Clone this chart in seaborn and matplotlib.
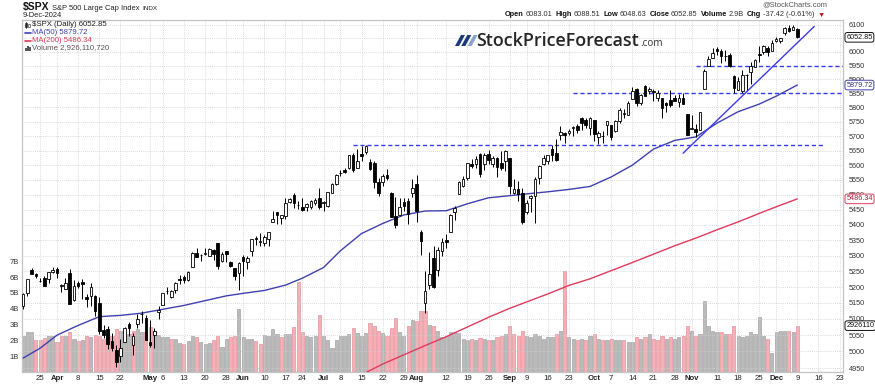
import numpy as np
import pandas as pd
import seaborn as sns
import matplotlib.pyplot as plt
from matplotlib.patches import Polygon, Rectangle
from matplotlib.ticker import FixedLocator, NullLocator, FixedFormatter

W, H = 875, 385

holidays = ["2024-03-29", "2024-05-27", "2024-06-19", "2024-07-04",
            "2024-09-02", "2024-11-28", "2024-12-25"]

opens = [
    5139.09, 5181.69, 5253.43, 5242.48, 5219.52, 5228.85, 5226.31, 5248.03,
    5257.97, 5204.29, 5194.37, 5244.05, 5158.95, 5211.37, 5217.03, 5167.88, 5172.95, 5171.51, 5149.67,
    5064.59, 5068.97, 5031.52, 5005.44, 4987.33, 5028.85, 5084.65, 5019.88, 5084.65, 5114.13, 5103.78,
    5029.03, 5049.32, 5122.78, 5142.42, 5187.20, 5168.98, 5189.03, 5225.49, 5233.08, 5221.10, 5263.26,
    5310.07, 5303.10, 5305.35, 5298.69, 5319.28, 5340.26, 5281.45, 5315.91, 5278.73, 5259.77, 5243.21,
    5297.15, 5278.24, 5314.48, 5357.80, 5343.81, 5341.22, 5353.00, 5409.13, 5441.93, 5424.08, 5431.11,
    5476.15, 5499.99, 5466.77, 5459.58, 5460.73, 5460.71, 5473.59, 5488.48,
    5471.08, 5461.84, 5507.44, 5537.91, 5572.75, 5584.24, 5591.26, 5635.21, 5590.76, 5638.16, 5644.09,
    5610.07, 5608.56, 5543.37, 5544.54, 5565.30, 5505.84, 5428.70, 5433.67, 5476.55, 5478.73, 5505.59,
    5537.84, 5376.63, 5151.14, 5206.42, 5293.13, 5252.57, 5314.75, 5351.89, 5376.98, 5442.65, 5501.13,
    5530.50, 5557.23, 5602.88, 5603.09, 5637.77, 5602.51, 5639.66, 5602.89, 5624.51, 5607.30, 5612.74,
    5623.89, 5506.68, 5520.08, 5507.33, 5442.07, 5490.51, 5496.42, 5557.48, 5603.34, 5615.21, 5655.51,
    5641.68, 5702.63, 5709.38, 5711.90, 5727.82, 5733.65, 5762.22, 5755.36, 5726.52,
    5757.73, 5698.19, 5698.93, 5737.54, 5737.80, 5719.14, 5751.80, 5778.36, 5775.09, 5829.81, 5866.74,
    5816.58, 5875.62, 5859.43, 5857.82, 5832.70, 5834.50, 5816.80, 5826.75, 5833.93, 5819.68, 5832.65, 5775.34,
    5723.22, 5725.15, 5722.43, 5864.89, 5947.21, 5976.76, 6008.86, 6003.60, 5985.75, 5989.68, 5912.79,
    5863.35, 5857.08, 5914.64, 5926.76, 5944.36, 5992.28, 6000.03, 6014.11, 6003.98,
    6040.11, 6041.04, 6069.39, 6089.03, 6081.38, 6083.01,
]
highs = [
    5180.31, 5226.19, 5261.10, 5246.09, 5229.09, 5235.16, 5249.26, 5264.85,
    5263.95, 5208.34, 5228.75, 5256.59, 5222.18, 5219.57, 5224.81, 5178.43, 5211.78, 5175.03, 5168.43,
    5079.84, 5077.96, 5056.66, 5019.02, 5038.84, 5076.12, 5089.48, 5057.75, 5114.62, 5123.49, 5110.83,
    5096.12, 5073.21, 5139.12, 5181.00, 5200.23, 5191.95, 5215.30, 5239.66, 5237.26, 5250.37, 5311.76,
    5325.49, 5305.45, 5325.32, 5324.32, 5323.18, 5341.88, 5311.65, 5315.91, 5282.27, 5260.21, 5280.33,
    5302.11, 5298.80, 5354.16, 5362.35, 5375.08, 5365.79, 5375.95, 5447.25, 5441.93, 5432.39, 5488.50,
    5490.38, 5505.53, 5478.31, 5490.66, 5472.88, 5483.14, 5490.81, 5523.64,
    5479.55, 5509.69, 5539.27, 5570.33, 5583.11, 5590.75, 5635.39, 5642.45, 5655.56, 5666.94, 5669.67,
    5622.49, 5614.05, 5557.50, 5570.36, 5585.34, 5508.04, 5491.59, 5488.32, 5487.74, 5489.46, 5551.51,
    5566.16, 5383.89, 5250.89, 5312.34, 5330.64, 5328.03, 5358.25, 5371.20, 5436.50, 5463.22, 5546.23,
    5561.98, 5608.30, 5620.51, 5632.68, 5643.22, 5641.82, 5651.62, 5631.18, 5627.03, 5646.95, 5651.37,
    5623.89, 5552.99, 5546.30, 5522.47, 5484.20, 5497.91, 5560.41, 5600.71, 5636.27, 5636.05, 5670.81,
    5689.75, 5733.57, 5715.14, 5725.36, 5735.32, 5741.03, 5767.37, 5764.76, 5765.14,
    5757.73, 5719.14, 5718.78, 5753.43, 5739.34, 5757.60, 5796.80, 5795.03, 5822.13, 5871.41, 5870.36,
    5846.52, 5878.46, 5872.17, 5866.92, 5863.04, 5834.85, 5817.80, 5862.82, 5842.92, 5847.19, 5850.94, 5775.34,
    5772.52, 5741.43, 5783.44, 5936.14, 5983.84, 6012.45, 6017.31, 6009.92, 6008.19, 5993.88, 5915.24,
    5909.04, 5932.62, 5920.67, 5963.21, 5972.90, 6020.75, 6025.42, 6020.16, 6044.17,
    6053.58, 6052.22, 6089.84, 6099.97, 6099.97, 6088.51,
]
lows = [
    5131.59, 5171.55, 5240.66, 5229.87, 5216.09, 5203.42, 5213.92, 5245.82,
    5229.20, 5184.05, 5194.37, 5146.06, 5157.21, 5197.35, 5160.78, 5138.70, 5138.77, 5107.94, 5052.47,
    5039.83, 5007.25, 5001.89, 4953.56, 4969.40, 5027.96, 5047.02, 4990.58, 5073.14, 5088.65, 5035.31,
    5013.45, 5011.05, 5101.22, 5142.42, 5178.96, 5165.86, 5180.41, 5209.68, 5211.16, 5217.98, 5263.26,
    5296.19, 5283.59, 5302.40, 5297.87, 5286.01, 5256.93, 5278.39, 5280.89, 5262.70, 5222.10, 5191.68,
    5234.32, 5257.63, 5297.64, 5335.36, 5331.33, 5331.52, 5331.33, 5409.13, 5402.51, 5403.75, 5420.40,
    5471.32, 5455.56, 5452.03, 5447.59, 5446.56, 5451.87, 5467.54, 5451.12,
    5446.53, 5458.43, 5507.42, 5531.63, 5562.51, 5574.57, 5586.44, 5576.53, 5590.44, 5614.75, 5639.02,
    5584.81, 5522.81, 5497.04, 5529.04, 5550.90, 5426.53, 5390.95, 5430.70, 5444.44, 5403.79, 5493.75,
    5410.42, 5302.03, 5119.26, 5193.56, 5195.54, 5233.85, 5298.04, 5324.37, 5376.98, 5415.83, 5501.13,
    5525.17, 5550.74, 5591.50, 5591.57, 5560.95, 5585.16, 5602.34, 5593.48, 5560.99, 5583.71, 5581.79,
    5504.33, 5503.66, 5480.04, 5402.62, 5434.49, 5441.72, 5406.96, 5535.50, 5601.65, 5604.53, 5614.05,
    5615.08, 5686.42, 5674.49, 5704.22, 5698.99, 5712.06, 5721.01, 5727.77, 5703.53,
    5681.28, 5674.00, 5677.35, 5703.34, 5686.85, 5714.56, 5745.02, 5764.76, 5775.09, 5829.81, 5804.48,
    5808.34, 5840.25, 5846.11, 5824.09, 5821.17, 5762.41, 5784.92, 5799.98, 5823.08, 5802.40, 5811.28, 5702.86,
    5723.22, 5696.51, 5722.10, 5864.89, 5947.21, 5976.76, 5986.69, 5960.08, 5965.91, 5946.23, 5853.01,
    5860.58, 5853.01, 5860.58, 5885.04, 5944.36, 5963.91, 5992.27, 5984.87, 6003.98,
    6035.33, 6033.39, 6061.06, 6070.78, 6079.98, 6048.63,
]
closes = [
    5178.51, 5224.62, 5241.53, 5234.18, 5218.19, 5203.58, 5248.49, 5254.35,
    5243.77, 5205.81, 5211.49, 5147.21, 5204.34, 5202.39, 5209.91, 5160.64, 5199.06, 5123.41, 5061.82,
    5051.41, 5022.21, 5011.12, 4967.23, 5010.60, 5070.55, 5071.63, 5048.42, 5099.96, 5116.17, 5035.69,
    5018.39, 5064.20, 5127.79, 5180.74, 5187.70, 5187.67, 5214.08, 5222.68, 5221.42, 5246.68, 5308.15,
    5297.10, 5303.27, 5308.13, 5321.41, 5307.01, 5267.84, 5304.72, 5306.04, 5266.95, 5235.48, 5277.51,
    5283.40, 5291.34, 5354.03, 5352.96, 5346.99, 5360.79, 5375.32, 5421.03, 5433.74, 5431.60, 5473.23,
    5487.03, 5473.17, 5464.62, 5447.87, 5469.30, 5477.90, 5482.87, 5460.48,
    5475.09, 5509.01, 5537.02, 5567.19, 5572.85, 5576.98, 5633.91, 5584.54, 5615.35, 5631.22, 5667.20,
    5588.27, 5544.59, 5505.00, 5564.41, 5555.74, 5427.13, 5399.22, 5459.10, 5463.54, 5436.44, 5522.30,
    5446.68, 5346.56, 5186.33, 5240.03, 5199.50, 5319.31, 5344.16, 5344.39, 5434.43, 5455.21, 5543.22,
    5554.25, 5608.25, 5597.12, 5620.85, 5570.64, 5634.61, 5616.84, 5625.80, 5592.18, 5591.96, 5648.40,
    5528.93, 5520.07, 5503.41, 5408.42, 5471.05, 5495.52, 5554.13, 5595.76, 5626.02, 5633.09, 5634.58,
    5618.26, 5713.64, 5702.55, 5718.57, 5732.93, 5722.26, 5745.37, 5738.17, 5762.48,
    5708.75, 5709.54, 5699.94, 5751.07, 5695.94, 5751.13, 5792.04, 5780.05, 5815.03, 5859.85, 5815.26,
    5842.47, 5841.47, 5864.67, 5853.98, 5851.20, 5797.42, 5809.86, 5808.12, 5823.52, 5832.92, 5813.67, 5705.45,
    5728.80, 5712.69, 5782.76, 5929.04, 5973.10, 5995.54, 6001.35, 5983.99, 5985.38, 5949.17, 5870.62,
    5893.62, 5916.98, 5917.11, 5948.71, 5969.34, 5987.37, 6021.63, 5998.74, 6032.38,
    6047.15, 6049.88, 6086.49, 6075.11, 6090.27, 6052.85,
]
# volume in billions
volumes = [
    2.25, 2.5, 2.55, 2.0, 2.05, 2.15, 2.25, 2.3,
    1.9, 2.25, 2.25, 2.5, 2.1, 1.95, 2.0, 2.25, 2.2, 2.35, 2.3, 2.1, 2.35, 2.25, 2.7, 2.6, 2.2, 2.4,
    2.6, 2.7, 2.5, 2.5,
    2.85, 2.5, 2.35, 2.2, 2.2, 2.1, 2.1, 1.85, 1.8, 1.95, 2.25, 2.2, 1.9, 1.75, 1.85, 2.0, 2.25, 1.6,
    2.1, 2.2, 2.25, 4.0,
    2.2, 2.1, 2.1, 1.95, 1.75, 2.35, 2.3, 2.7, 2.4, 2.2, 2.4, 2.4, 2.85, 5.7, 2.5, 2.3, 2.2, 2.3, 3.6,
    2.3, 2.0, 1.5, 2.0, 2.3, 2.3, 2.4, 2.8, 2.45, 2.3, 2.45, 3.1, 2.9, 2.6, 2.45, 2.3, 2.8, 3.4, 2.5,
    2.3, 2.9, 3.3,
    3.25, 3.85, 3.85, 3.0, 2.9, 2.6, 2.2, 2.3, 2.5, 2.5, 2.45, 2.1, 2.0, 2.1, 2.0, 2.15, 2.1, 2.0,
    2.0, 2.2, 2.25, 2.4,
    2.9, 2.4, 2.3, 2.6, 2.3, 2.2, 2.4, 2.3, 2.1, 2.2, 2.2, 2.4, 2.6, 6.4, 2.2, 2.1, 2.0, 2.1, 2.0, 2.3,
    2.4, 2.1, 2.0, 2.0, 2.1, 2.0, 2.0, 2.0, 1.9, 1.9, 2.2, 2.1, 2.2, 2.4, 2.1, 2.0, 2.3, 2.1, 2.2,
    2.1, 2.2, 2.3, 2.9,
    2.6, 2.3, 2.4, 4.5, 2.9, 2.6, 2.5, 2.5, 2.4, 2.4, 2.9, 2.3, 2.2, 2.3, 2.5, 2.4, 3.5, 2.3, 2.1, 1.2,
    2.5, 2.6, 2.6, 2.6, 2.5, 2.93,
]

ma50_dates = ["2024-03-19", "2024-03-25", "2024-04-01", "2024-04-08", "2024-04-15", "2024-04-22",
              "2024-04-29", "2024-05-06", "2024-05-13", "2024-05-20", "2024-05-28", "2024-06-03",
              "2024-06-10", "2024-06-17", "2024-06-24", "2024-07-01", "2024-07-08", "2024-07-15",
              "2024-07-22", "2024-07-29", "2024-08-05", "2024-08-12", "2024-08-19", "2024-08-26",
              "2024-09-03", "2024-09-09", "2024-09-16", "2024-09-23", "2024-09-30", "2024-10-07",
              "2024-10-14", "2024-10-21", "2024-10-28", "2024-11-04", "2024-11-11", "2024-11-18",
              "2024-11-25", "2024-12-02", "2024-12-09"]
ma50 = [4980, 5010, 5050, 5080, 5107, 5111, 5118, 5130, 5142, 5157, 5172, 5180, 5189, 5206, 5228,
        5262, 5316, 5372, 5405, 5433, 5446, 5447, 5470, 5490, 5497, 5503, 5510, 5518, 5528, 5560,
        5600, 5655, 5685, 5697, 5745, 5785, 5812, 5840, 5879.72]

ma200_dates = ["2024-07-15", "2024-07-22", "2024-07-29", "2024-08-05", "2024-08-12", "2024-08-19",
               "2024-08-26", "2024-09-03", "2024-09-09", "2024-09-16", "2024-09-23", "2024-09-30",
               "2024-10-07", "2024-10-14", "2024-10-21", "2024-10-28", "2024-11-04", "2024-11-11",
               "2024-11-18", "2024-11-25", "2024-12-02", "2024-12-09"]
ma200 = [4930, 4962, 4990, 5018, 5045, 5075, 5105, 5133, 5153, 5178, 5205, 5226, 5252, 5278, 5305,
         5332, 5357, 5384, 5410, 5438, 5460, 5486.34]

# horizontal support / resistance lines (level, from date, to date)
support_levels = [5669.67, 5850, 5950]
support_from = ["2024-07-11", "2024-09-24", "2024-11-04"]
support_to = ["2024-12-17", "2024-12-31", "2024-12-31"]
trend_dates = ["2024-10-30", "2024-12-13"]
trend_values = [5641, 6093]

tick_dates = ["2024-03-25", "2024-04-01", "2024-04-08", "2024-04-15", "2024-04-22", "2024-05-01",
              "2024-05-06", "2024-05-13", "2024-05-20", "2024-05-28", "2024-06-03", "2024-06-10",
              "2024-06-17", "2024-06-24", "2024-07-01", "2024-07-08", "2024-07-15", "2024-07-22",
              "2024-07-29", "2024-08-01", "2024-08-12", "2024-08-19", "2024-08-26", "2024-09-03",
              "2024-09-09", "2024-09-16", "2024-09-23", "2024-10-01", "2024-10-07", "2024-10-14",
              "2024-10-21", "2024-10-28", "2024-11-01", "2024-11-11", "2024-11-18", "2024-11-25",
              "2024-12-02", "2024-12-09", "2024-12-16", "2024-12-23"]
tick_labels = ["25", "Apr", "8", "15", "22", "May", "6", "13", "20", "28", "Jun", "10", "17", "24",
               "Jul", "8", "15", "22", "29", "Aug", "12", "19", "26", "Sep", "9", "16", "23", "Oct",
               "7", "14", "21", "28", "Nov", "11", "18", "25", "Dec", "9", "16", "23"]
price_ticks = [4950, 5000, 5050, 5100, 5150, 5200, 5250, 5300, 5350, 5400, 5450, 5500, 5550, 5600,
               5650, 5700, 5750, 5800, 5850, 5900, 5950, 6000, 6050, 6100]
price_labels = [str(p) if p != 6050 else "" for p in price_ticks]
vol_ticks = [1, 2, 3, 4, 5, 6, 7]
vol_labels = ["1B", "2B", "3B", "4B", "5B", "6B", "7B"]

# ---------------------------------------------------------------------------
all_days = pd.bdate_range("2024-03-19", "2024-12-31", freq="C", holidays=holidays)
pos = {d.strftime("%Y-%m-%d"): i for i, d in enumerate(all_days)}
n = len(closes)
x = np.arange(n)

sns.set_theme(style="white")
plt.rcParams["font.family"] = ["Liberation Sans", "DejaVu Sans"]


def fx(px):
    return px / W


def fy(py):
    return 1 - py / H


fig = plt.figure(figsize=(W / 100, H / 100), dpi=100)
ax = fig.add_axes([fx(22), fy(372), 821 / W, 352 / H])
ax2 = ax.twinx()
renderer = fig.canvas.get_renderer()

# volume bars
up = [True] + [closes[i] >= closes[i - 1] for i in range(1, n)]
vcol = ["#bababa" if u else "#f3b0b7" for u in up]
vedge = ["#a5a5a5" if u else "#e6929b" for u in up]
ax.bar(x, volumes, width=0.74, color=vcol, edgecolor=vedge, linewidth=0.5, zorder=2)
ax.set_ylim(0, 22.25)
ax.set_yticks(vol_ticks)
ax.set_yticklabels(vol_labels)
ax.tick_params(axis="y", labelsize=5.5, colors="#333333", length=0, pad=2)

# price axis (log)
ax2.set_yscale("log")
for p in tick_dates:
    ax2.axvline(pos[p], ls=(0, (1, 1.5)), color="#cfcfcf", lw=0.6, zorder=0)
ax2.grid(axis="y", ls=(0, (1, 1.5)), color="#cfcfcf", lw=0.6)

sns.lineplot(x=[pos[d] for d in ma200_dates], y=ma200, ax=ax2, color="#e03a5c", lw=1.0, zorder=3)
sns.lineplot(x=[pos[d] for d in ma50_dates], y=ma50, ax=ax2, color="#4040b0", lw=1.0, zorder=3)

for lvl, d0, d1 in zip(support_levels, support_from, support_to):
    ax2.plot([pos[d0], pos[d1]], [lvl, lvl], color="#3a3af0", lw=1.0, ls=(0, (3, 2)), zorder=3)
ax2.plot([pos[d] for d in trend_dates], trend_values, color="#3a3af0", lw=1.0, zorder=3)

# candles
o = np.array(opens)
c = np.array(closes)
ax2.vlines(x, lows, highs, color="black", lw=0.7, zorder=4)
body_lo = np.minimum(o, c)
body_h = np.abs(c - o)
fill = ["white" if cc >= oo else "black" for oo, cc in zip(o, c)]
ax2.bar(x, body_h, bottom=body_lo, width=0.62, color=fill, edgecolor="black", linewidth=0.6, zorder=5)

ax2.set_ylim(4938, 6117)
ax2.yaxis.set_major_locator(FixedLocator(price_ticks))
ax2.yaxis.set_minor_locator(NullLocator())
ax2.yaxis.set_major_formatter(FixedFormatter(price_labels))
ax2.tick_params(axis="y", labelsize=5.2, colors="#333333", length=0, pad=4)
ax2.set_ylabel("")
ax2.set_xlabel("")

ax.set_xlim(-0.28, 193.8)
ax.set_xticks([pos[d] for d in tick_dates])
ax.set_xticklabels(tick_labels)
ax.tick_params(axis="x", labelsize=5.6, colors="#222222", length=0, pad=2.5)
for lab in ax.get_xticklabels():
    if lab.get_text() in ("Apr", "May", "Jun", "Jul", "Aug", "Sep", "Oct", "Nov", "Dec"):
        lab.set_fontweight("bold")
for a in (ax, ax2):
    for s in a.spines.values():
        s.set_color("#c4c4c4")
        s.set_linewidth(0.8)


# right side value boxes
def badge(axis, val, txt, ec, tc):
    axis.text(1.004, val, txt, transform=axis.get_yaxis_transform(), fontsize=5.2, color=tc,
              va="center", ha="left", zorder=10,
              bbox=dict(boxstyle="round,pad=0.18,rounding_size=0.3", fc="white", ec=ec, lw=0.7))


badge(ax2, closes[-1], "6052.85", "#111111", "#111111")
badge(ax2, ma50[-1], "5879.72", "#4040b0", "#303080")
badge(ax2, ma200[-1], "5486.34", "#e03a5c", "#a02040")
badge(ax, volumes[-1], "2926110", "#111111", "#111111")


def chain(x0, y, parts, size, gap):
    xc = x0
    for s, w, col, sz in parts:
        t = fig.text(fx(xc), fy(y), s, fontsize=sz, fontweight=w, color=col, va="baseline", ha="left")
        xc += t.get_window_extent(renderer=renderer).width + gap


# titles
chain(23, 10, [("$SPX", "bold", "#111111", 7.5),
               ("S&P 500 Large Cap Index", "normal", "#222222", 5.4),
               ("INDX", "normal", "#222222", 4.6)], None, 2.5)
fig.text(fx(23), fy(15.5), "9-Dec-2024", fontsize=5.4, color="#222222", va="center")
fig.text(fx(827), fy(4.5), "@StockCharts.com", fontsize=5.4, color="#555555", va="center", ha="right")

parts = [("Open", "bold", "#111111"), ("6083.01", "normal", "#333333"),
         ("High", "bold", "#111111"), ("6088.51", "normal", "#333333"),
         ("Low", "bold", "#111111"), ("6048.63", "normal", "#333333"),
         ("Close", "bold", "#111111"), ("6052.85", "normal", "#333333"),
         ("Volume", "bold", "#111111"), ("2.9B", "normal", "#333333"),
         ("Chg", "bold", "#111111"), ("-37.42 (-0.61%)", "normal", "#333333"),
         ("\u25bc", "normal", "#d0102a")]
xc = 505
for k, (s, w, col) in enumerate(parts):
    t = fig.text(fx(xc), fy(15), s, fontsize=5.3, fontweight=w, color=col, va="center", ha="left")
    xc += t.get_window_extent(renderer=renderer).width + (1.6 if k % 2 == 0 else 3.2)

# legend block inside plot
leg = [("$SPX (Daily) 6052.85", "#222222", 25), ("MA(50) 5879.72", "#4040b0", 33),
       ("MA(200) 5486.34", "#e03a5c", 40.5), ("Volume 2,926,110,720", "#555555", 48)]
for s, col, yy in leg:
    fig.text(fx(32), fy(yy), s, fontsize=5.6, color=col, va="center")
fig.add_artist(plt.Line2D([fx(25), fx(31)], [fy(33), fy(33)], color="#4040b0", lw=1.2))
fig.add_artist(plt.Line2D([fx(25), fx(31)], [fy(40.5), fy(40.5)], color="#e03a5c", lw=1.2))
fig.add_artist(plt.Line2D([fx(26), fx(26)], [fy(22), fy(28)], color="#222222", lw=0.6))
fig.add_artist(Rectangle((fx(25), fy(27)), 2 / W, 4 / H, transform=fig.transFigure, fc="#222222", ec="#222222", lw=0.4))
fig.add_artist(Rectangle((fx(28), fy(26.5)), 2 / W, 3 / H, transform=fig.transFigure, fc="white", ec="#222222", lw=0.4))
for bx, bh in [(25, 3), (27, 5), (29, 4)]:
    fig.add_artist(Rectangle((fx(bx), fy(50.5)), 1.5 / W, bh / H, transform=fig.transFigure,
                             fc="#555555", ec="none"))

# logo
for k, colr in enumerate(["#1c3a78", "#1c3a78", "#8aa3cd"]):
    dx = 6.3 * k
    pts = [(fx(455 + dx), fy(46)), (fx(459 + dx), fy(46)), (fx(465 + dx), fy(35)), (fx(461 + dx), fy(35))]
    fig.add_artist(Polygon(pts, closed=True, transform=fig.transFigure, fc=colr, ec="none"))
fig.text(fx(476), fy(45.8), "StockPriceForecast", fontsize=12.9, family=["Open Sans", "DejaVu Sans"],
         fontweight="semibold", color="#262626", va="baseline", ha="left")
fig.text(fx(640), fy(45.8), ".com", fontsize=7.2, family=["Open Sans", "DejaVu Sans"],
         color="#333333", va="baseline", ha="left")

fig.savefig("out.png", dpi=100)
